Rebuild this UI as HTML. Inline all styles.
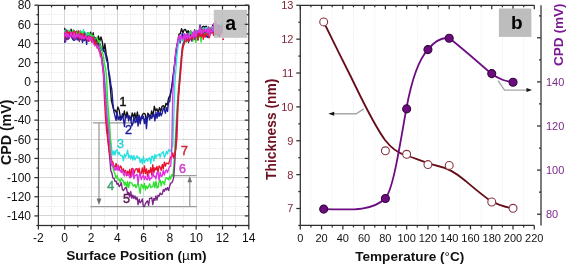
<!DOCTYPE html>
<html><head><meta charset="utf-8"><style>
html,body{margin:0;padding:0;background:#fff;}
svg{display:block;font-family:"Liberation Sans", sans-serif;will-change:transform;}
</style></head><body>
<svg width="567" height="265" viewBox="0 0 567 265">
<rect width="567" height="265" fill="#fff"/>
<line x1="51.5" y1="5.4" x2="51.5" y2="225.5" stroke="#e2e2e2" stroke-width="1" stroke-dasharray="1 1.6"/>
<line x1="64.5" y1="5.4" x2="64.5" y2="225.5" stroke="#d4d4d4" stroke-width="1"/>
<line x1="77.5" y1="5.4" x2="77.5" y2="225.5" stroke="#e2e2e2" stroke-width="1" stroke-dasharray="1 1.6"/>
<line x1="91.5" y1="5.4" x2="91.5" y2="225.5" stroke="#d4d4d4" stroke-width="1"/>
<line x1="104.5" y1="5.4" x2="104.5" y2="225.5" stroke="#e2e2e2" stroke-width="1" stroke-dasharray="1 1.6"/>
<line x1="117.5" y1="5.4" x2="117.5" y2="225.5" stroke="#d4d4d4" stroke-width="1"/>
<line x1="130.5" y1="5.4" x2="130.5" y2="225.5" stroke="#e2e2e2" stroke-width="1" stroke-dasharray="1 1.6"/>
<line x1="143.5" y1="5.4" x2="143.5" y2="225.5" stroke="#d4d4d4" stroke-width="1"/>
<line x1="156.5" y1="5.4" x2="156.5" y2="225.5" stroke="#e2e2e2" stroke-width="1" stroke-dasharray="1 1.6"/>
<line x1="169.5" y1="5.4" x2="169.5" y2="225.5" stroke="#d4d4d4" stroke-width="1"/>
<line x1="183.5" y1="5.4" x2="183.5" y2="225.5" stroke="#e2e2e2" stroke-width="1" stroke-dasharray="1 1.6"/>
<line x1="196.5" y1="5.4" x2="196.5" y2="225.5" stroke="#d4d4d4" stroke-width="1"/>
<line x1="209.5" y1="5.4" x2="209.5" y2="225.5" stroke="#e2e2e2" stroke-width="1" stroke-dasharray="1 1.6"/>
<line x1="222.5" y1="5.4" x2="222.5" y2="225.5" stroke="#d4d4d4" stroke-width="1"/>
<line x1="235.5" y1="5.4" x2="235.5" y2="225.5" stroke="#e2e2e2" stroke-width="1" stroke-dasharray="1 1.6"/>
<line x1="38.4" y1="215.5" x2="248.8" y2="215.5" stroke="#d4d4d4" stroke-width="1"/>
<line x1="38.4" y1="206.5" x2="248.8" y2="206.5" stroke="#e2e2e2" stroke-width="1" stroke-dasharray="1 1.6"/>
<line x1="38.4" y1="196.5" x2="248.8" y2="196.5" stroke="#d4d4d4" stroke-width="1"/>
<line x1="38.4" y1="187.5" x2="248.8" y2="187.5" stroke="#e2e2e2" stroke-width="1" stroke-dasharray="1 1.6"/>
<line x1="38.4" y1="177.5" x2="248.8" y2="177.5" stroke="#d4d4d4" stroke-width="1"/>
<line x1="38.4" y1="168.5" x2="248.8" y2="168.5" stroke="#e2e2e2" stroke-width="1" stroke-dasharray="1 1.6"/>
<line x1="38.4" y1="158.5" x2="248.8" y2="158.5" stroke="#d4d4d4" stroke-width="1"/>
<line x1="38.4" y1="148.5" x2="248.8" y2="148.5" stroke="#e2e2e2" stroke-width="1" stroke-dasharray="1 1.6"/>
<line x1="38.4" y1="139.5" x2="248.8" y2="139.5" stroke="#d4d4d4" stroke-width="1"/>
<line x1="38.4" y1="129.5" x2="248.8" y2="129.5" stroke="#e2e2e2" stroke-width="1" stroke-dasharray="1 1.6"/>
<line x1="38.4" y1="120.5" x2="248.8" y2="120.5" stroke="#d4d4d4" stroke-width="1"/>
<line x1="38.4" y1="110.5" x2="248.8" y2="110.5" stroke="#e2e2e2" stroke-width="1" stroke-dasharray="1 1.6"/>
<line x1="38.4" y1="100.5" x2="248.8" y2="100.5" stroke="#d4d4d4" stroke-width="1"/>
<line x1="38.4" y1="91.5" x2="248.8" y2="91.5" stroke="#e2e2e2" stroke-width="1" stroke-dasharray="1 1.6"/>
<line x1="38.4" y1="81.5" x2="248.8" y2="81.5" stroke="#d4d4d4" stroke-width="1"/>
<line x1="38.4" y1="72.5" x2="248.8" y2="72.5" stroke="#e2e2e2" stroke-width="1" stroke-dasharray="1 1.6"/>
<line x1="38.4" y1="62.5" x2="248.8" y2="62.5" stroke="#d4d4d4" stroke-width="1"/>
<line x1="38.4" y1="53.5" x2="248.8" y2="53.5" stroke="#e2e2e2" stroke-width="1" stroke-dasharray="1 1.6"/>
<line x1="38.4" y1="43.5" x2="248.8" y2="43.5" stroke="#d4d4d4" stroke-width="1"/>
<line x1="38.4" y1="33.5" x2="248.8" y2="33.5" stroke="#e2e2e2" stroke-width="1" stroke-dasharray="1 1.6"/>
<line x1="38.4" y1="24.5" x2="248.8" y2="24.5" stroke="#d4d4d4" stroke-width="1"/>
<line x1="38.4" y1="14.5" x2="248.8" y2="14.5" stroke="#e2e2e2" stroke-width="1" stroke-dasharray="1 1.6"/>
<line x1="310.94" y1="5.3" x2="310.94" y2="225.4" stroke="#f2f2f2" stroke-width="1" stroke-dasharray="2 1"/>
<line x1="332.21" y1="5.3" x2="332.21" y2="225.4" stroke="#f2f2f2" stroke-width="1" stroke-dasharray="2 1"/>
<line x1="353.48" y1="5.3" x2="353.48" y2="225.4" stroke="#f2f2f2" stroke-width="1" stroke-dasharray="2 1"/>
<line x1="374.75" y1="5.3" x2="374.75" y2="225.4" stroke="#f2f2f2" stroke-width="1" stroke-dasharray="2 1"/>
<line x1="396.03" y1="5.3" x2="396.03" y2="225.4" stroke="#f2f2f2" stroke-width="1" stroke-dasharray="2 1"/>
<line x1="417.3" y1="5.3" x2="417.3" y2="225.4" stroke="#f2f2f2" stroke-width="1" stroke-dasharray="2 1"/>
<line x1="438.57" y1="5.3" x2="438.57" y2="225.4" stroke="#f2f2f2" stroke-width="1" stroke-dasharray="2 1"/>
<line x1="459.85" y1="5.3" x2="459.85" y2="225.4" stroke="#f2f2f2" stroke-width="1" stroke-dasharray="2 1"/>
<line x1="481.12" y1="5.3" x2="481.12" y2="225.4" stroke="#f2f2f2" stroke-width="1" stroke-dasharray="2 1"/>
<line x1="502.39" y1="5.3" x2="502.39" y2="225.4" stroke="#f2f2f2" stroke-width="1" stroke-dasharray="2 1"/>
<line x1="523.66" y1="5.3" x2="523.66" y2="225.4" stroke="#f2f2f2" stroke-width="1" stroke-dasharray="2 1"/>
<g stroke="#9a9a9a" stroke-width="1.25" fill="none"><line x1="92.8" y1="122.9" x2="136" y2="122.9"/><line x1="99" y1="122.9" x2="99" y2="200"/><line x1="90.3" y1="206.6" x2="196.5" y2="206.6"/><line x1="172.4" y1="175.6" x2="196.5" y2="175.6"/><line x1="189.8" y1="206.6" x2="189.8" y2="181"/></g>
<path d="M96.6 198.6 L101.4 198.6 L99 205 Z" fill="#707070"/>
<path d="M187.5 182.2 L192.1 182.2 L189.8 175.9 Z" fill="#707070"/>
<path d="M64.6 27.97 L65.9 34.41 L67.2 31.4 L68.5 31.89 L69.8 35.83 L71.1 29.24 L72.4 36.52 L73.7 30.12 L75 37.35 L76.3 31.26 L77.6 34.73 L78.9 35.32 L80.2 30.98 L81.5 39.37 L82.8 33 L84.1 36.07 L85.4 36.32 L86.7 34.18 L88 36.94 L89.3 38.86 L90.6 32.14 L91.9 39.09 L93.2 32.78 L94.5 43.19 L95.8 37.7 L97.1 43.32 L98.4 35.83 L99.7 41.47 L101 36.89 L102.3 41.68 L103.6 51.07 L104.9 43.78 L106.2 54.18 L107.5 59.49 L108.8 73.34 L110.1 84.73 L111.4 100.71 L112.7 105.96 L114 110.74 L115.3 110.21 L116.6 113.27 L117.9 106.89 L119.2 110.27 L120.5 118.01 L121.8 116.41 L123.1 116.95 L124.4 110.99 L125.7 118.58 L127 111.96 L128.3 116.44 L129.6 117.35 L130.9 120.39 L132.2 112.83 L133.5 117.25 L134.8 112.9 L136.1 119.29 L137.4 111.99 L138.7 120.84 L140 121.49 L141.3 118.47 L142.6 114.24 L143.9 113.44 L145.2 114.13 L146.5 122.11 L147.8 113.18 L149.1 114.83 L150.4 117.25 L151.7 111.01 L153 116.49 L154.3 106.09 L155.6 110.91 L156.9 108.78 L158.2 112.66 L159.5 107.68 L160.8 111.25 L162.1 106.28 L163.4 105.59 L164.7 108.47 L166 103.28 L167.3 105.02 L168.6 97.94 L169.9 95.85 L171.2 90.43 L172.5 83.16 L173.8 71.62 L175.1 58.81 L176.4 47.98 L177.7 41.76 L179 34.07 L180.3 33.54 L181.6 28.7 L182.9 32.88 L184.2 29.64 L185.5 29.4 L186.8 32.86 L188.1 30.63 L189.4 35.66 L190.7 30.87 L192 39.26 L193.3 35.11 L194.6 29.81 L195.9 37.03 L197.2 37.07 L198.5 31.08 L199.8 35.46 L201.1 29.77 L202.4 26.69 L203.7 26.3 L205 27.16 L206.3 26.11 L207.6 31.16 L208.9 37.66 L210.2 27.72 L211.5 30.09 L212.8 24.92 L214.1 31.09 L215.4 25.04 L216.7 26.02 L218 25.42 L219.3 36.69 L220.6 31.61 L221.9 24.63" fill="none" stroke="#111111" stroke-width="1.35" stroke-linejoin="round"/>
<path d="M64.6 42.8 L65.65 33.63 L66.7 39.17 L67.75 33.96 L68.8 38.56 L69.85 33.95 L70.9 33.4 L71.95 37.79 L73 39.7 L74.05 40.31 L75.1 39.6 L76.15 34.25 L77.2 39.8 L78.25 39.83 L79.3 35.52 L80.35 39.68 L81.4 34.87 L82.45 42.49 L83.5 35.09 L84.55 40.5 L85.6 35.37 L86.65 44.42 L87.7 32.76 L88.75 40.25 L89.8 38.06 L90.85 39.18 L91.9 38.51 L92.95 40.66 L94 36.81 L95.05 42.53 L96.1 41.05 L97.15 46.3 L98.2 41.78 L99.25 45.91 L100.3 43.86 L101.35 50.35 L102.4 48.16 L103.45 50.39 L104.5 51.35 L105.55 54.82 L106.6 60.23 L107.65 63.04 L108.7 71.79 L109.75 76.01 L110.8 84.31 L111.85 89.98 L112.9 103.55 L113.95 111.93 L115 116.07 L116.05 120.29 L117.1 112.19 L118.15 119.72 L119.2 116.75 L120.25 120.19 L121.3 119.51 L122.35 113.77 L123.4 119.22 L124.45 126.47 L125.5 116.03 L126.55 117.08 L127.6 115.46 L128.65 120.93 L129.7 115.88 L130.75 119.11 L131.8 125.92 L132.85 123.79 L133.9 116.67 L134.95 122.05 L136 122.18 L137.05 116.74 L138.1 126.05 L139.15 115.09 L140.2 123.91 L141.25 116.35 L142.3 118.58 L143.35 116.35 L144.4 123.47 L145.45 117.84 L146.5 128.56 L147.55 115.02 L148.6 115.58 L149.65 119.81 L150.7 115.86 L151.75 118.42 L152.8 114.48 L153.85 113.86 L154.9 120.91 L155.95 112.28 L157 118.2 L158.05 112.11 L159.1 116.27 L160.15 111.89 L161.2 115.73 L162.25 112.93 L163.3 108.15 L164.35 109.6 L165.4 113.23 L166.45 107.59 L167.5 111.42 L168.55 101.62 L169.6 101.84 L170.65 93.34 L171.7 87.23 L172.75 78.51 L173.8 70.69 L174.85 64.18 L175.9 53.84 L176.95 46.41 L178 42.57 L179.05 36.99 L180.1 42.88 L181.15 37.34 L182.2 33.61 L183.25 39.01 L184.3 33.71 L185.35 35.26 L186.4 38.35 L187.45 34.05 L188.5 42.47 L189.55 32.22 L190.6 33.94 L191.65 40.2 L192.7 33.65 L193.75 38.75 L194.8 38.11 L195.85 33.72 L196.9 30.69 L197.95 39.94 L199 31.7 L200.05 25.01 L201.1 35.35 L202.15 31.42 L203.2 35.55 L204.25 28.03 L205.3 33.37 L206.35 35.94 L207.4 37.26 L208.45 29.4 L209.5 34.03 L210.55 29.42 L211.6 30.35 L212.65 32 L213.7 28.14 L214.75 33.99 L215.8 34.58 L216.85 25.08 L217.9 35.59 L218.95 29.37 L220 32.99 L221.05 28.44 L222.1 31.53" fill="none" stroke="#1c1c9c" stroke-width="1.4" stroke-linejoin="round"/>
<path d="M64.6 30.16 L65.65 35.46 L66.7 29.43 L67.75 34.77 L68.8 34.71 L69.85 30.48 L70.9 35.85 L71.95 35.51 L73 35.2 L74.05 33.2 L75.1 36.14 L76.15 32.84 L77.2 32.3 L78.25 32.62 L79.3 32.2 L80.35 37.47 L81.4 32.02 L82.45 33.15 L83.5 29.36 L84.55 36.32 L85.6 32.49 L86.65 36.09 L87.7 32.86 L88.75 34.21 L89.8 39.05 L90.85 35.22 L91.9 39.48 L92.95 35.62 L94 41.14 L95.05 38.84 L96.1 44.38 L97.15 45.02 L98.2 45.43 L99.25 49.37 L100.3 50.26 L101.35 56.44 L102.4 57.58 L103.45 65.54 L104.5 75.94 L105.55 86.64 L106.6 99.41 L107.65 113.19 L108.7 126.65 L109.75 133.78 L110.8 141.28 L111.85 150.22 L112.9 155.03 L113.95 151.02 L115 155.07 L116.05 150.16 L117.1 150.05 L118.15 154.56 L119.2 152.11 L120.25 155.29 L121.3 155.83 L122.35 155.79 L123.4 160.91 L124.45 154.05 L125.5 157.09 L126.55 154.48 L127.6 150.22 L128.65 157.53 L129.7 155.16 L130.75 158.85 L131.8 155.41 L132.85 160.05 L133.9 155.76 L134.95 159.86 L136 157.72 L137.05 155.92 L138.1 157.93 L139.15 157.36 L140.2 162.61 L141.25 159.27 L142.3 163.77 L143.35 156.54 L144.4 162.76 L145.45 160.18 L146.5 158.82 L147.55 161.31 L148.6 158.55 L149.65 157.66 L150.7 163.54 L151.75 156.44 L152.8 156.22 L153.85 161.02 L154.9 154.49 L155.95 158.09 L157 155.47 L158.05 155.13 L159.1 153.82 L160.15 157.33 L161.2 153.57 L162.25 152.85 L163.3 151.61 L164.35 157.24 L165.4 155.68 L166.45 151.46 L167.5 153.98 L168.55 149.66 L169.6 150.83 L170.65 151 L171.7 146.99 L172.75 146.72 L173.8 116.94 L174.85 84.56 L175.9 69.72 L176.95 56.07 L178 46.72 L179.05 38.75 L180.1 40.68 L181.15 37.94 L182.2 41.08 L183.25 38.77 L184.3 35.48 L185.35 40.79 L186.4 34.06 L187.45 41.1 L188.5 36.84 L189.55 32.63 L190.6 38.1 L191.65 33.55 L192.7 37.12 L193.75 32.34 L194.8 34.89 L195.85 30.95 L196.9 35.49 L197.95 35.69 L199 30.31 L200.05 29.79 L201.1 32.58 L202.15 28.93 L203.2 28.1 L204.25 31.27 L205.3 28.17 L206.35 27.65 L207.4 33.07 L208.45 27.01 L209.5 31.83 L210.55 27.91 L211.6 30.77 L212.65 26.76 L213.7 29.22 L214.75 26.35 L215.8 28.65 L216.85 25.77 L217.9 29.09 L218.95 25.87 L220 28.96 L221.05 24.86 L222.1 22.5" fill="none" stroke="#28e0e0" stroke-width="1.35" stroke-linejoin="round"/>
<path d="M64.6 31.21 L65.65 34.22 L66.7 33.54 L67.75 32.46 L68.8 30.18 L69.85 35.73 L70.9 34.56 L71.95 32.33 L73 30.31 L74.05 31.79 L75.1 35.46 L76.15 31.99 L77.2 35.78 L78.25 31.92 L79.3 34.32 L80.35 31.12 L81.4 31.53 L82.45 35.12 L83.5 34.18 L84.55 31.75 L85.6 37.38 L86.65 36.79 L87.7 33.71 L88.75 32.61 L89.8 34.12 L90.85 34.05 L91.9 36.61 L92.95 35.49 L94 39.31 L95.05 39.6 L96.1 38.63 L97.15 37.34 L98.2 42.36 L99.25 40.49 L100.3 46.71 L101.35 47.46 L102.4 51.72 L103.45 56.63 L104.5 63.8 L105.55 68.09 L106.6 77.52 L107.65 101.29 L108.7 114.85 L109.75 126.73 L110.8 146.06 L111.85 165.05 L112.9 167.52 L113.95 171.53 L115 174.3 L116.05 178.3 L117.1 175.42 L118.15 179.86 L119.2 179.3 L120.25 182.51 L121.3 178.54 L122.35 179.96 L123.4 181.28 L124.45 184.97 L125.5 182.09 L126.55 188.57 L127.6 181.53 L128.65 187.56 L129.7 182.22 L130.75 182.62 L131.8 182.97 L132.85 185.37 L133.9 186.11 L134.95 184.43 L136 187.76 L137.05 185.22 L138.1 182.44 L139.15 188.43 L140.2 193.32 L141.25 184.07 L142.3 185.45 L143.35 188.63 L144.4 183.46 L145.45 190.03 L146.5 185.85 L147.55 188.46 L148.6 186.39 L149.65 183.78 L150.7 187.6 L151.75 186.72 L152.8 186.69 L153.85 181.86 L154.9 187.68 L155.95 181.17 L157 187.8 L158.05 187.61 L159.1 181.74 L160.15 180.02 L161.2 185.96 L162.25 181.41 L163.3 181.74 L164.35 184.86 L165.4 179.41 L166.45 177.72 L167.5 178.47 L168.55 179.77 L169.6 176.13 L170.65 179.1 L171.7 174.7 L172.75 176.2 L173.8 167.19 L174.85 147.35 L175.9 129.14 L176.95 109.51 L178 94.4 L179.05 81.54 L180.1 69.22 L181.15 58.5 L182.2 50.05 L183.25 43.95 L184.3 38.57 L185.35 37.48 L186.4 41.99 L187.45 40.52 L188.5 36.08 L189.55 39.42 L190.6 30.9 L191.65 38.36 L192.7 41.21 L193.75 37.92 L194.8 33.07 L195.85 42.34 L196.9 34.37 L197.95 35.16 L199 37.35 L200.05 34.06 L201.1 42.04 L202.15 28.96 L203.2 35.89 L204.25 29.69 L205.3 33.88 L206.35 29.83 L207.4 35.27 L208.45 35.43 L209.5 27.84 L210.55 33.31 L211.6 28.45 L212.65 31.21 L213.7 29.6 L214.75 28.4 L215.8 33.19 L216.85 30.31 L217.9 31.21 L218.95 28.32 L220 33.32 L221.05 31.87 L222.1 28.11" fill="none" stroke="#2ee02e" stroke-width="1.35" stroke-linejoin="round"/>
<path d="M64.6 33.05 L65.65 41.71 L66.7 30.47 L67.75 39.59 L68.8 38.64 L69.85 33.13 L70.9 35.08 L71.95 34.94 L73 37.58 L74.05 39.29 L75.1 33.51 L76.15 38.64 L77.2 38.15 L78.25 35.09 L79.3 41.47 L80.35 34.16 L81.4 39.91 L82.45 36.25 L83.5 40.76 L84.55 33 L85.6 37.08 L86.65 39.32 L87.7 36.18 L88.75 41.39 L89.8 37.33 L90.85 39.69 L91.9 37.67 L92.95 38.27 L94 41.33 L95.05 39.64 L96.1 44.73 L97.15 44.06 L98.2 44.68 L99.25 49.4 L100.3 52.3 L101.35 55.95 L102.4 62.67 L103.45 70.49 L104.5 83.89 L105.55 99.43 L106.6 117.88 L107.65 133.03 L108.7 147.01 L109.75 158.31 L110.8 170.77 L111.85 172.85 L112.9 178.08 L113.95 178.21 L115 181.38 L116.05 181.02 L117.1 184.38 L118.15 183.34 L119.2 186.47 L120.25 185.21 L121.3 182.82 L122.35 189.47 L123.4 190.65 L124.45 189.14 L125.5 187.59 L126.55 188.62 L127.6 194.16 L128.65 192.34 L129.7 197.13 L130.75 191.71 L131.8 198.19 L132.85 195.02 L133.9 198.46 L134.95 195.9 L136 199.51 L137.05 197.26 L138.1 204.72 L139.15 199.24 L140.2 202.76 L141.25 201.6 L142.3 198.91 L143.35 206.29 L144.4 206.65 L145.45 203.59 L146.5 201.81 L147.55 200.85 L148.6 205.42 L149.65 198.44 L150.7 198.36 L151.75 197.66 L152.8 204.54 L153.85 198.44 L154.9 200.3 L155.95 195.86 L157 200.04 L158.05 195.21 L159.1 196.16 L160.15 193.02 L161.2 194.65 L162.25 194.18 L163.3 189.66 L164.35 191.3 L165.4 188.39 L166.45 189.95 L167.5 187.61 L168.55 190.48 L169.6 186.31 L170.65 183.16 L171.7 182.86 L172.75 180.92 L173.8 176.81 L174.85 161.69 L175.9 142.08 L176.95 120.5 L178 99.91 L179.05 86.8 L180.1 74.74 L181.15 60.2 L182.2 48.02 L183.25 43.48 L184.3 41.6 L185.35 36.18 L186.4 40.27 L187.45 35.72 L188.5 40.85 L189.55 40.69 L190.6 34.77 L191.65 41.04 L192.7 36.76 L193.75 35.12 L194.8 39.54 L195.85 32.94 L196.9 36.12 L197.95 31.33 L199 36.27 L200.05 31.19 L201.1 36.41 L202.15 32.97 L203.2 36.26 L204.25 30.17 L205.3 32.85 L206.35 31.09 L207.4 29.9 L208.45 30.19 L209.5 36.02 L210.55 28.85 L211.6 32.99 L212.65 31.07 L213.7 32.2 L214.75 34.71 L215.8 28.6 L216.85 33.14 L217.9 28.82 L218.95 25 L220 33.05 L221.05 33.44 L222.1 27.17" fill="none" stroke="#7a2486" stroke-width="1.35" stroke-linejoin="round"/>
<path d="M64.6 32.45 L65.65 36.87 L66.7 30.67 L67.75 35.6 L68.8 32.33 L69.85 32.26 L70.9 36.66 L71.95 31.97 L73 34.73 L74.05 31.55 L75.1 31.64 L76.15 36.92 L77.2 35.46 L78.25 30.66 L79.3 38.53 L80.35 34.09 L81.4 33.76 L82.45 38.42 L83.5 33.94 L84.55 38.69 L85.6 35.87 L86.65 39.27 L87.7 40.59 L88.75 35.84 L89.8 39.78 L90.85 36.34 L91.9 42.35 L92.95 37.28 L94 40.17 L95.05 45.71 L96.1 41.36 L97.15 48.12 L98.2 46.79 L99.25 51.67 L100.3 51.53 L101.35 55.36 L102.4 65.08 L103.45 74.84 L104.5 99.72 L105.55 117.79 L106.6 130.96 L107.65 138.33 L108.7 147.99 L109.75 154.19 L110.8 158.08 L111.85 161.33 L112.9 162 L113.95 166.76 L115 167.16 L116.05 163.33 L117.1 168.96 L118.15 166.2 L119.2 170.44 L120.25 166 L121.3 166.94 L122.35 172.1 L123.4 168.96 L124.45 172.87 L125.5 170.32 L126.55 175.9 L127.6 171.17 L128.65 174.97 L129.7 169.48 L130.75 177.66 L131.8 168.66 L132.85 168.46 L133.9 174.25 L134.95 170.25 L136 168.87 L137.05 168.7 L138.1 172.34 L139.15 168.13 L140.2 174.81 L141.25 173.4 L142.3 168.01 L143.35 173.87 L144.4 165.92 L145.45 173.55 L146.5 168.96 L147.55 176.44 L148.6 170.31 L149.65 172.92 L150.7 167.7 L151.75 175.02 L152.8 164.77 L153.85 172.81 L154.9 167.66 L155.95 170.04 L157 166.34 L158.05 172.17 L159.1 166 L160.15 167.23 L161.2 170.27 L162.25 164.33 L163.3 168.83 L164.35 162.23 L165.4 166.08 L166.45 163.06 L167.5 163.44 L168.55 163.89 L169.6 160.8 L170.65 156.9 L171.7 157.3 L172.75 152.97 L173.8 157.95 L174.85 153.81 L175.9 148.93 L176.95 137.72 L178 105.66 L179.05 91.12 L180.1 78.32 L181.15 66.98 L182.2 53.2 L183.25 46.68 L184.3 43.47 L185.35 40.03 L186.4 41.14 L187.45 36.18 L188.5 41.52 L189.55 37.69 L190.6 38.88 L191.65 36.26 L192.7 38.86 L193.75 35.99 L194.8 31.22 L195.85 34.73 L196.9 34.82 L197.95 39.77 L199 32.56 L200.05 31.82 L201.1 36.72 L202.15 29.34 L203.2 39.23 L204.25 34.55 L205.3 37.14 L206.35 34.02 L207.4 33.29 L208.45 36.49 L209.5 37.49 L210.55 28.7 L211.6 31.02 L212.65 32.07 L213.7 35.49 L214.75 30.76 L215.8 33.97 L216.85 32.17 L217.9 33.67 L218.95 31.3 L220 35.43 L221.05 29.4 L222.1 32.6" fill="none" stroke="#e8102c" stroke-width="1.35" stroke-linejoin="round"/>
<path d="M64.6 36.45 L65.65 31.96 L66.7 37.37 L67.75 33.54 L68.8 36.84 L69.85 37.09 L70.9 32.18 L71.95 35.72 L73 37.21 L74.05 32.32 L75.1 38.53 L76.15 34.49 L77.2 36.82 L78.25 33.51 L79.3 37.34 L80.35 35.4 L81.4 38.79 L82.45 35.27 L83.5 38.42 L84.55 38.62 L85.6 35.69 L86.65 37.27 L87.7 39.65 L88.75 36.8 L89.8 41.09 L90.85 37.35 L91.9 38.9 L92.95 42.26 L94 44.39 L95.05 45.57 L96.1 44.99 L97.15 47.55 L98.2 46.34 L99.25 49.53 L100.3 56.25 L101.35 57.68 L102.4 65.26 L103.45 72.39 L104.5 89.58 L105.55 103.03 L106.6 115.16 L107.65 123.62 L108.7 133.14 L109.75 145.68 L110.8 158.92 L111.85 165.5 L112.9 164.01 L113.95 167.71 L115 170.28 L116.05 167.51 L117.1 170.16 L118.15 164.85 L119.2 170.62 L120.25 170.12 L121.3 172.55 L122.35 169.66 L123.4 174.36 L124.45 175.92 L125.5 171.67 L126.55 173.78 L127.6 175.26 L128.65 173.43 L129.7 177.81 L130.75 176.96 L131.8 176.36 L132.85 168.86 L133.9 178.83 L134.95 175.53 L136 175.41 L137.05 174.34 L138.1 182.71 L139.15 175.57 L140.2 173.49 L141.25 179.53 L142.3 177.08 L143.35 175.07 L144.4 179.52 L145.45 176.07 L146.5 179.39 L147.55 179.79 L148.6 174.5 L149.65 180.06 L150.7 178.27 L151.75 178.06 L152.8 172.26 L153.85 176.67 L154.9 176.02 L155.95 178.97 L157 172.34 L158.05 172.5 L159.1 180.19 L160.15 172.14 L161.2 176.38 L162.25 175.8 L163.3 170.05 L164.35 175.01 L165.4 171.47 L166.45 169.91 L167.5 172.63 L168.55 169.29 L169.6 166.37 L170.65 166.33 L171.7 151.69 L172.75 94.95 L173.8 74.78 L174.85 60.84 L175.9 50.3 L176.95 45.12 L178 39.25 L179.05 35.74 L180.1 41.75 L181.15 34.93 L182.2 38.64 L183.25 39.01 L184.3 33.73 L185.35 40.18 L186.4 34.27 L187.45 38.44 L188.5 33.32 L189.55 38.65 L190.6 36.61 L191.65 36.73 L192.7 32.12 L193.75 37.85 L194.8 30.45 L195.85 36.52 L196.9 32.85 L197.95 30.84 L199 32.89 L200.05 26.61 L201.1 34.04 L202.15 30.53 L203.2 32.6 L204.25 28.66 L205.3 31.58 L206.35 29.25 L207.4 32.8 L208.45 26.76 L209.5 35.74 L210.55 28.79 L211.6 32 L212.65 31.63 L213.7 23.48 L214.75 31.74 L215.8 21.71 L216.85 32.25 L217.9 31.55 L218.95 33.84 L220 26.04 L221.05 26.6 L222.1 32.81" fill="none" stroke="#e030e0" stroke-width="1.35" stroke-linejoin="round"/>
<text x="123.1" y="105.6" font-size="12.5" fill="#111" stroke="#111" stroke-width="0.45" text-anchor="middle">1</text>
<text x="128.4" y="133.9" font-size="12.5" fill="#1c1c9c" stroke="#1c1c9c" stroke-width="0.45" text-anchor="middle">2</text>
<text x="120.4" y="147.8" font-size="12.5" fill="#30d0d0" stroke="#30d0d0" stroke-width="0.45" text-anchor="middle">3</text>
<text x="110.8" y="190.2" font-size="12.5" fill="#3ca070" stroke="#3ca070" stroke-width="0.45" text-anchor="middle">4</text>
<text x="126.4" y="203.4" font-size="12.5" fill="#5a1a50" stroke="#5a1a50" stroke-width="0.45" text-anchor="middle">5</text>
<text x="182.5" y="173.1" font-size="12.5" fill="#d040d0" stroke="#d040d0" stroke-width="0.45" text-anchor="middle">6</text>
<text x="184.4" y="155.3" font-size="12.5" fill="#c82838" stroke="#c82838" stroke-width="0.45" text-anchor="middle">7</text>
<rect x="213.8" y="9.8" width="33.4" height="28" fill="#bdbdbd" fill-opacity="0.86"/>
<circle cx="223.2" cy="39.2" r="0.9" fill="#e8102c"/>
<text x="230.6" y="30.4" font-size="19.5" fill="#000" text-anchor="middle" font-weight="bold" >a</text>
<g stroke="#2e2e2e" stroke-width="1.25"><rect x="38.4" y="5.4" width="210.4" height="220.1" fill="none" stroke="#2e2e2e" stroke-width="1.25"/><line x1="36.4" y1="225.5" x2="38.4" y2="225.5"/><line x1="246.8" y1="225.5" x2="248.8" y2="225.5"/><line x1="34.4" y1="215.92" x2="38.4" y2="215.92"/><line x1="244.8" y1="215.92" x2="248.8" y2="215.92"/><line x1="36.4" y1="206.34" x2="38.4" y2="206.34"/><line x1="246.8" y1="206.34" x2="248.8" y2="206.34"/><line x1="34.4" y1="196.76" x2="38.4" y2="196.76"/><line x1="244.8" y1="196.76" x2="248.8" y2="196.76"/><line x1="36.4" y1="187.18" x2="38.4" y2="187.18"/><line x1="246.8" y1="187.18" x2="248.8" y2="187.18"/><line x1="34.4" y1="177.6" x2="38.4" y2="177.6"/><line x1="244.8" y1="177.6" x2="248.8" y2="177.6"/><line x1="36.4" y1="168.02" x2="38.4" y2="168.02"/><line x1="246.8" y1="168.02" x2="248.8" y2="168.02"/><line x1="34.4" y1="158.44" x2="38.4" y2="158.44"/><line x1="244.8" y1="158.44" x2="248.8" y2="158.44"/><line x1="36.4" y1="148.86" x2="38.4" y2="148.86"/><line x1="246.8" y1="148.86" x2="248.8" y2="148.86"/><line x1="34.4" y1="139.28" x2="38.4" y2="139.28"/><line x1="244.8" y1="139.28" x2="248.8" y2="139.28"/><line x1="36.4" y1="129.7" x2="38.4" y2="129.7"/><line x1="246.8" y1="129.7" x2="248.8" y2="129.7"/><line x1="34.4" y1="120.12" x2="38.4" y2="120.12"/><line x1="244.8" y1="120.12" x2="248.8" y2="120.12"/><line x1="36.4" y1="110.54" x2="38.4" y2="110.54"/><line x1="246.8" y1="110.54" x2="248.8" y2="110.54"/><line x1="34.4" y1="100.96" x2="38.4" y2="100.96"/><line x1="244.8" y1="100.96" x2="248.8" y2="100.96"/><line x1="36.4" y1="91.38" x2="38.4" y2="91.38"/><line x1="246.8" y1="91.38" x2="248.8" y2="91.38"/><line x1="34.4" y1="81.8" x2="38.4" y2="81.8"/><line x1="244.8" y1="81.8" x2="248.8" y2="81.8"/><line x1="36.4" y1="72.22" x2="38.4" y2="72.22"/><line x1="246.8" y1="72.22" x2="248.8" y2="72.22"/><line x1="34.4" y1="62.64" x2="38.4" y2="62.64"/><line x1="244.8" y1="62.64" x2="248.8" y2="62.64"/><line x1="36.4" y1="53.06" x2="38.4" y2="53.06"/><line x1="246.8" y1="53.06" x2="248.8" y2="53.06"/><line x1="34.4" y1="43.48" x2="38.4" y2="43.48"/><line x1="244.8" y1="43.48" x2="248.8" y2="43.48"/><line x1="36.4" y1="33.9" x2="38.4" y2="33.9"/><line x1="246.8" y1="33.9" x2="248.8" y2="33.9"/><line x1="34.4" y1="24.32" x2="38.4" y2="24.32"/><line x1="244.8" y1="24.32" x2="248.8" y2="24.32"/><line x1="36.4" y1="14.74" x2="38.4" y2="14.74"/><line x1="246.8" y1="14.74" x2="248.8" y2="14.74"/><line x1="34.4" y1="5.16" x2="38.4" y2="5.16"/><line x1="244.8" y1="5.16" x2="248.8" y2="5.16"/><line x1="38.4" y1="225.5" x2="38.4" y2="229.5"/><line x1="38.4" y1="5.4" x2="38.4" y2="9.4"/><line x1="51.55" y1="225.5" x2="51.55" y2="227.5"/><line x1="51.55" y1="5.4" x2="51.55" y2="7.4"/><line x1="64.7" y1="225.5" x2="64.7" y2="229.5"/><line x1="64.7" y1="5.4" x2="64.7" y2="9.4"/><line x1="77.85" y1="225.5" x2="77.85" y2="227.5"/><line x1="77.85" y1="5.4" x2="77.85" y2="7.4"/><line x1="91" y1="225.5" x2="91" y2="229.5"/><line x1="91" y1="5.4" x2="91" y2="9.4"/><line x1="104.15" y1="225.5" x2="104.15" y2="227.5"/><line x1="104.15" y1="5.4" x2="104.15" y2="7.4"/><line x1="117.3" y1="225.5" x2="117.3" y2="229.5"/><line x1="117.3" y1="5.4" x2="117.3" y2="9.4"/><line x1="130.45" y1="225.5" x2="130.45" y2="227.5"/><line x1="130.45" y1="5.4" x2="130.45" y2="7.4"/><line x1="143.6" y1="225.5" x2="143.6" y2="229.5"/><line x1="143.6" y1="5.4" x2="143.6" y2="9.4"/><line x1="156.75" y1="225.5" x2="156.75" y2="227.5"/><line x1="156.75" y1="5.4" x2="156.75" y2="7.4"/><line x1="169.9" y1="225.5" x2="169.9" y2="229.5"/><line x1="169.9" y1="5.4" x2="169.9" y2="9.4"/><line x1="183.05" y1="225.5" x2="183.05" y2="227.5"/><line x1="183.05" y1="5.4" x2="183.05" y2="7.4"/><line x1="196.2" y1="225.5" x2="196.2" y2="229.5"/><line x1="196.2" y1="5.4" x2="196.2" y2="9.4"/><line x1="209.35" y1="225.5" x2="209.35" y2="227.5"/><line x1="209.35" y1="5.4" x2="209.35" y2="7.4"/><line x1="222.5" y1="225.5" x2="222.5" y2="229.5"/><line x1="222.5" y1="5.4" x2="222.5" y2="9.4"/><line x1="235.65" y1="225.5" x2="235.65" y2="227.5"/><line x1="235.65" y1="5.4" x2="235.65" y2="7.4"/><line x1="248.8" y1="225.5" x2="248.8" y2="229.5"/><line x1="248.8" y1="5.4" x2="248.8" y2="9.4"/></g>
<text x="31" y="220.22" font-size="12" fill="#111" text-anchor="end" font-weight="normal" >-140</text><text x="31" y="201.06" font-size="12" fill="#111" text-anchor="end" font-weight="normal" >-120</text><text x="31" y="181.9" font-size="12" fill="#111" text-anchor="end" font-weight="normal" >-100</text><text x="31" y="162.74" font-size="12" fill="#111" text-anchor="end" font-weight="normal" >-80</text><text x="31" y="143.58" font-size="12" fill="#111" text-anchor="end" font-weight="normal" >-60</text><text x="31" y="124.42" font-size="12" fill="#111" text-anchor="end" font-weight="normal" >-40</text><text x="31" y="105.26" font-size="12" fill="#111" text-anchor="end" font-weight="normal" >-20</text><text x="31" y="86.1" font-size="12" fill="#111" text-anchor="end" font-weight="normal" >0</text><text x="31" y="66.94" font-size="12" fill="#111" text-anchor="end" font-weight="normal" >20</text><text x="31" y="47.78" font-size="12" fill="#111" text-anchor="end" font-weight="normal" >40</text><text x="31" y="28.62" font-size="12" fill="#111" text-anchor="end" font-weight="normal" >60</text><text x="31" y="9.46" font-size="12" fill="#111" text-anchor="end" font-weight="normal" >80</text><text x="38.4" y="242" font-size="12" fill="#111" text-anchor="middle" font-weight="normal" >-2</text><text x="64.7" y="242" font-size="12" fill="#111" text-anchor="middle" font-weight="normal" >0</text><text x="91" y="242" font-size="12" fill="#111" text-anchor="middle" font-weight="normal" >2</text><text x="117.3" y="242" font-size="12" fill="#111" text-anchor="middle" font-weight="normal" >4</text><text x="143.6" y="242" font-size="12" fill="#111" text-anchor="middle" font-weight="normal" >6</text><text x="169.9" y="242" font-size="12" fill="#111" text-anchor="middle" font-weight="normal" >8</text><text x="196.2" y="242" font-size="12" fill="#111" text-anchor="middle" font-weight="normal" >10</text><text x="222.5" y="242" font-size="12" fill="#111" text-anchor="middle" font-weight="normal" >12</text><text x="248.8" y="242" font-size="12" fill="#111" text-anchor="middle" font-weight="normal" >14</text>
<text x="136.4" y="260" font-size="13.65" fill="#111" text-anchor="middle" font-weight="bold" >Surface Position (<tspan font-weight="normal">µ</tspan>m)</text>
<text x="0" y="0" font-size="14.2" fill="#111" text-anchor="middle" font-weight="bold" transform="translate(10.9 132.3) rotate(-90)">CPD (mV)</text>
<g stroke="#2e2e2e" stroke-width="1.25"><line x1="300.3" y1="5.3" x2="300.3" y2="225.4"/><line x1="300.3" y1="225.4" x2="534.3" y2="225.4"/><line x1="300.3" y1="5.3" x2="534.3" y2="5.3"/><line x1="541.0" y1="5.3" x2="541.0" y2="225.4"/><line x1="300.3" y1="225.4" x2="300.3" y2="229.4"/><line x1="300.3" y1="5.3" x2="300.3" y2="9.3"/><line x1="310.94" y1="225.4" x2="310.94" y2="227.4"/><line x1="310.94" y1="5.3" x2="310.94" y2="7.3"/><line x1="321.57" y1="225.4" x2="321.57" y2="229.4"/><line x1="321.57" y1="5.3" x2="321.57" y2="9.3"/><line x1="332.21" y1="225.4" x2="332.21" y2="227.4"/><line x1="332.21" y1="5.3" x2="332.21" y2="7.3"/><line x1="342.85" y1="225.4" x2="342.85" y2="229.4"/><line x1="342.85" y1="5.3" x2="342.85" y2="9.3"/><line x1="353.48" y1="225.4" x2="353.48" y2="227.4"/><line x1="353.48" y1="5.3" x2="353.48" y2="7.3"/><line x1="364.12" y1="225.4" x2="364.12" y2="229.4"/><line x1="364.12" y1="5.3" x2="364.12" y2="9.3"/><line x1="374.75" y1="225.4" x2="374.75" y2="227.4"/><line x1="374.75" y1="5.3" x2="374.75" y2="7.3"/><line x1="385.39" y1="225.4" x2="385.39" y2="229.4"/><line x1="385.39" y1="5.3" x2="385.39" y2="9.3"/><line x1="396.03" y1="225.4" x2="396.03" y2="227.4"/><line x1="396.03" y1="5.3" x2="396.03" y2="7.3"/><line x1="406.66" y1="225.4" x2="406.66" y2="229.4"/><line x1="406.66" y1="5.3" x2="406.66" y2="9.3"/><line x1="417.3" y1="225.4" x2="417.3" y2="227.4"/><line x1="417.3" y1="5.3" x2="417.3" y2="7.3"/><line x1="427.94" y1="225.4" x2="427.94" y2="229.4"/><line x1="427.94" y1="5.3" x2="427.94" y2="9.3"/><line x1="438.57" y1="225.4" x2="438.57" y2="227.4"/><line x1="438.57" y1="5.3" x2="438.57" y2="7.3"/><line x1="449.21" y1="225.4" x2="449.21" y2="229.4"/><line x1="449.21" y1="5.3" x2="449.21" y2="9.3"/><line x1="459.85" y1="225.4" x2="459.85" y2="227.4"/><line x1="459.85" y1="5.3" x2="459.85" y2="7.3"/><line x1="470.48" y1="225.4" x2="470.48" y2="229.4"/><line x1="470.48" y1="5.3" x2="470.48" y2="9.3"/><line x1="481.12" y1="225.4" x2="481.12" y2="227.4"/><line x1="481.12" y1="5.3" x2="481.12" y2="7.3"/><line x1="491.75" y1="225.4" x2="491.75" y2="229.4"/><line x1="491.75" y1="5.3" x2="491.75" y2="9.3"/><line x1="502.39" y1="225.4" x2="502.39" y2="227.4"/><line x1="502.39" y1="5.3" x2="502.39" y2="7.3"/><line x1="513.03" y1="225.4" x2="513.03" y2="229.4"/><line x1="513.03" y1="5.3" x2="513.03" y2="9.3"/><line x1="523.66" y1="225.4" x2="523.66" y2="227.4"/><line x1="523.66" y1="5.3" x2="523.66" y2="7.3"/><line x1="534.3" y1="225.4" x2="534.3" y2="229.4"/><line x1="534.3" y1="5.3" x2="534.3" y2="9.3"/><line x1="298.3" y1="225.44" x2="300.3" y2="225.44"/><line x1="296.3" y1="208.5" x2="300.3" y2="208.5"/><line x1="298.3" y1="191.56" x2="300.3" y2="191.56"/><line x1="296.3" y1="174.63" x2="300.3" y2="174.63"/><line x1="298.3" y1="157.69" x2="300.3" y2="157.69"/><line x1="296.3" y1="140.76" x2="300.3" y2="140.76"/><line x1="298.3" y1="123.83" x2="300.3" y2="123.83"/><line x1="296.3" y1="106.89" x2="300.3" y2="106.89"/><line x1="298.3" y1="89.96" x2="300.3" y2="89.96"/><line x1="296.3" y1="73.02" x2="300.3" y2="73.02"/><line x1="298.3" y1="56.09" x2="300.3" y2="56.09"/><line x1="296.3" y1="39.15" x2="300.3" y2="39.15"/><line x1="298.3" y1="22.22" x2="300.3" y2="22.22"/><line x1="296.3" y1="5.28" x2="300.3" y2="5.28"/><line x1="537" y1="214.2" x2="541.0" y2="214.2"/><line x1="539" y1="192.15" x2="541.0" y2="192.15"/><line x1="537" y1="170.1" x2="541.0" y2="170.1"/><line x1="539" y1="148.05" x2="541.0" y2="148.05"/><line x1="537" y1="126" x2="541.0" y2="126"/><line x1="539" y1="103.95" x2="541.0" y2="103.95"/><line x1="537" y1="81.9" x2="541.0" y2="81.9"/><line x1="539" y1="59.85" x2="541.0" y2="59.85"/><line x1="537" y1="37.8" x2="541.0" y2="37.8"/><line x1="539" y1="15.75" x2="541.0" y2="15.75"/></g>
<text x="293.4" y="212.4" font-size="11" fill="#7e1e30" text-anchor="end" font-weight="normal" >7</text><text x="293.4" y="178.53" font-size="11" fill="#7e1e30" text-anchor="end" font-weight="normal" >8</text><text x="293.4" y="144.66" font-size="11" fill="#7e1e30" text-anchor="end" font-weight="normal" >9</text><text x="293.4" y="110.79" font-size="11" fill="#7e1e30" text-anchor="end" font-weight="normal" >10</text><text x="293.4" y="76.92" font-size="11" fill="#7e1e30" text-anchor="end" font-weight="normal" >11</text><text x="293.4" y="43.05" font-size="11" fill="#7e1e30" text-anchor="end" font-weight="normal" >12</text><text x="293.4" y="9.18" font-size="11" fill="#7e1e30" text-anchor="end" font-weight="normal" >13</text><text x="300.3" y="242" font-size="11" fill="#111" text-anchor="middle" font-weight="normal" >0</text><text x="321.57" y="242" font-size="11" fill="#111" text-anchor="middle" font-weight="normal" >20</text><text x="342.85" y="242" font-size="11" fill="#111" text-anchor="middle" font-weight="normal" >40</text><text x="364.12" y="242" font-size="11" fill="#111" text-anchor="middle" font-weight="normal" >60</text><text x="385.39" y="242" font-size="11" fill="#111" text-anchor="middle" font-weight="normal" >80</text><text x="406.66" y="242" font-size="11" fill="#111" text-anchor="middle" font-weight="normal" >100</text><text x="427.94" y="242" font-size="11" fill="#111" text-anchor="middle" font-weight="normal" >120</text><text x="449.21" y="242" font-size="11" fill="#111" text-anchor="middle" font-weight="normal" >140</text><text x="470.48" y="242" font-size="11" fill="#111" text-anchor="middle" font-weight="normal" >160</text><text x="491.75" y="242" font-size="11" fill="#111" text-anchor="middle" font-weight="normal" >180</text><text x="513.03" y="242" font-size="11" fill="#111" text-anchor="middle" font-weight="normal" >200</text><text x="534.3" y="242" font-size="11" fill="#111" text-anchor="middle" font-weight="normal" >220</text><text x="546" y="218.1" font-size="11" fill="#7a2a8a" text-anchor="start" font-weight="normal" >80</text><text x="546" y="174" font-size="11" fill="#7a2a8a" text-anchor="start" font-weight="normal" >100</text><text x="546" y="129.9" font-size="11" fill="#7a2a8a" text-anchor="start" font-weight="normal" >120</text><text x="546" y="85.8" font-size="11" fill="#7a2a8a" text-anchor="start" font-weight="normal" >140</text>
<text x="409.8" y="260.6" font-size="13.55" fill="#111" text-anchor="middle" font-weight="bold" >Temperature (<tspan font-weight="normal">°</tspan>C)</text>
<text x="0" y="0" font-size="13.8" fill="#6e1020" text-anchor="middle" font-weight="bold" transform="translate(275.6 129.3) rotate(-90)">Thickness (nm)</text>
<text x="0" y="0" font-size="13.6" fill="#7a1a92" text-anchor="middle" font-weight="bold" transform="translate(562.8 34.7) rotate(-90)">CPD (mV)</text>
<path d="M323.7 22 C330 35, 342 59, 350 75 S 372 122, 385 140 C392 149, 398 153, 405 155 C415 158, 425 163, 438 166 C448 168, 455 172, 465 180.5 C475 189, 482 195, 490 200.5 C498 205, 505 207, 512.6 208.3" fill="none" stroke="#660c18" stroke-width="1.8"/>
<path d="M323.7 209.1 C338 209.3, 350 210.2, 362 208.6 C372 207.2, 380 203.5, 385.2 198.5 C393 190, 399 150, 406.3 108.9 C412 78, 419 59, 428 49.6 C434 42, 441 37, 449.4 38.2 C462 48, 478 62, 491.2 73.6 C500 80, 506 81, 512.8 82.3" fill="none" stroke="#6e0c82" stroke-width="1.8"/>
<circle cx="323.7" cy="21.9" r="3.95" fill="#fff" stroke="#8a3444" stroke-width="1.1"/>
<circle cx="385.39" cy="150.8" r="3.95" fill="#fff" stroke="#8a3444" stroke-width="1.1"/>
<circle cx="406.66" cy="154.3" r="3.95" fill="#fff" stroke="#8a3444" stroke-width="1.1"/>
<circle cx="427.94" cy="164.6" r="3.95" fill="#fff" stroke="#8a3444" stroke-width="1.1"/>
<circle cx="449.21" cy="165.4" r="3.95" fill="#fff" stroke="#8a3444" stroke-width="1.1"/>
<circle cx="491.75" cy="202" r="3.95" fill="#fff" stroke="#8a3444" stroke-width="1.1"/>
<circle cx="513.03" cy="208.3" r="3.95" fill="#fff" stroke="#8a3444" stroke-width="1.1"/>
<circle cx="323.7" cy="209.1" r="4.0" fill="#6c0c7e" stroke="#34083c" stroke-width="1.1"/>
<circle cx="385.39" cy="198.5" r="4.0" fill="#6c0c7e" stroke="#34083c" stroke-width="1.1"/>
<circle cx="406.66" cy="108.9" r="4.0" fill="#6c0c7e" stroke="#34083c" stroke-width="1.1"/>
<circle cx="427.94" cy="49.6" r="4.0" fill="#6c0c7e" stroke="#34083c" stroke-width="1.1"/>
<circle cx="449.21" cy="38.2" r="4.0" fill="#6c0c7e" stroke="#34083c" stroke-width="1.1"/>
<circle cx="491.75" cy="73.6" r="4.0" fill="#6c0c7e" stroke="#34083c" stroke-width="1.1"/>
<circle cx="513.03" cy="82.3" r="4.0" fill="#6c0c7e" stroke="#34083c" stroke-width="1.1"/>
<path d="M363.7 108.9 L356.2 113.8 L333.5 113.8" fill="none" stroke="#a6a6a6" stroke-width="1.4"/>
<path d="M328.3 113.8 L334.2 111.8 L334.2 115.8 Z" fill="#111"/>
<path d="M498.1 80.7 L504.5 90.1 L527 90.1" fill="none" stroke="#a6a6a6" stroke-width="1.4"/>
<path d="M532 90.1 L526.5 88.1 L526.5 92.1 Z" fill="#111"/>
<rect x="498.9" y="8.5" width="32.5" height="28.4" fill="#bdbdbd"/>
<text x="516.9" y="29.3" font-size="19" fill="#000" text-anchor="middle" font-weight="bold" >b</text>
</svg></body></html>
